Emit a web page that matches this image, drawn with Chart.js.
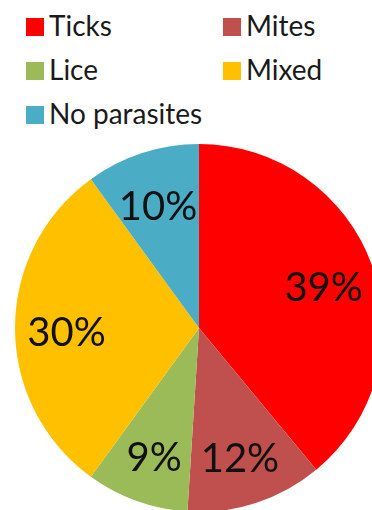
<!DOCTYPE html>
<html><head><meta charset="utf-8">
<script src="https://cdn.jsdelivr.net/npm/chart.js@4"></script>
<style>
html,body{margin:0;padding:0;width:372px;height:510px;overflow:hidden;background:#fff;}
.item{position:absolute;display:flex;align-items:center;font-family:Lato,"Open Sans",sans-serif;font-size:28px;color:#1a1a1a;white-space:nowrap;line-height:1}
.item .txt{position:relative;top:-2px}
.box{width:18px;height:18px;margin-right:5px;flex:none}
#wrap{position:absolute;left:15px;top:144px;width:368px;height:368px;}
.lbl{position:absolute;font-family:Lato,"Open Sans",sans-serif;font-size:40px;color:#111;transform:translate(-50%,-50%);margin-top:3px;white-space:nowrap;line-height:1;pointer-events:none}
</style></head>
<body>
<div id="legend"></div>
<div id="wrap"><canvas id="c"></canvas><div id="labels"></div></div>
<script>
const categories = ["Ticks", "Mites", "Lice", "Mixed", "No parasites"];
const percentages = [39, 12, 9, 30, 10];
const sliceColors = ["#FF0000", "#C0504D", "#9BBB59", "#FFC000", "#4BACC6"];

// HTML legend in a 2-column grid
const legendEl = document.getElementById('legend');
const colX = [26, 223], rowY = [27, 71, 115];
categories.forEach((name, i) => {
  const it = document.createElement('div');
  it.className = 'item';
  it.style.left = colX[i % 2] + 'px';
  it.style.top = rowY[Math.floor(i / 2)] + 'px';
  it.style.transform = 'translateY(-50%)';
  const b = document.createElement('span');
  b.className = 'box';
  b.style.background = sliceColors[i];
  const t = document.createElement('span');
  t.className = 'txt';
  t.textContent = name;
  it.appendChild(b); it.appendChild(t);
  legendEl.appendChild(it);
});

const labelsEl = document.getElementById('labels');
const labelPlugin = {
  id: 'sliceLabels',
  afterDraw(chart) {
    labelsEl.innerHTML = '';
    const meta = chart.getDatasetMeta(0);
    meta.data.forEach((arc, i) => {
      const p = arc.getProps(['x', 'y', 'startAngle', 'endAngle', 'outerRadius'], true);
      const mid = (p.startAngle + p.endAngle) / 2;
      const r = p.outerRadius * 0.72;
      const d = document.createElement('div');
      d.className = 'lbl';
      d.textContent = chart.data.datasets[0].data[i] + '%';
      d.style.left = (p.x + Math.cos(mid) * r) + 'px';
      d.style.top = (p.y + Math.sin(mid) * r) + 'px';
      labelsEl.appendChild(d);
    });
  }
};

new Chart(document.getElementById('c'), {
  type: 'pie',
  data: {
    labels: categories,
    datasets: [{ data: percentages, backgroundColor: sliceColors, borderWidth: 0 }]
  },
  options: {
    responsive: true,
    maintainAspectRatio: false,
    animation: false,
    layout: { padding: 0 },
    plugins: { legend: { display: false }, tooltip: { enabled: false } }
  },
  plugins: [labelPlugin]
});
</script>
</body></html>
